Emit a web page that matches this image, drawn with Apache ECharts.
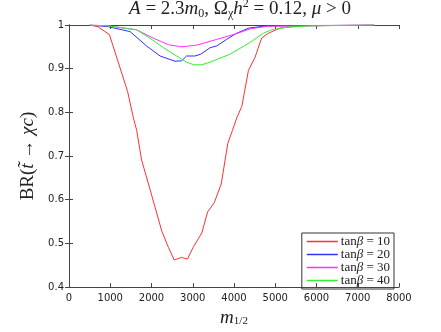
<!DOCTYPE html>
<html><head><meta charset="utf-8">
<script src="https://cdn.jsdelivr.net/npm/echarts@6/dist/echarts.min.js"></script>
<style>html,body{margin:0;padding:0;background:#fff}#c{width:441px;height:332px}</style>
</head><body><div id="c"></div>
<script>
var xTicks = [0,1000,2000,3000,4000,5000,6000,7000,8000];
var yTicks = [0.4,0.5,0.6,0.7,0.8,0.9,1];
var seriesNames = ['10','20','30','40'];
var xRed = [500, 700, 980, 1420, 1560, 1640, 1760, 1960, 2250, 2410, 2550, 2730, 2870, 3010, 3220, 3360, 3520, 3690, 3850, 3960, 4070, 4190, 4350, 4510, 4670, 4830, 5120, 5600, 7400];
var yRed = [1, 0.996, 0.978, 0.848, 0.788, 0.759, 0.691, 0.625, 0.528, 0.491, 0.462, 0.468, 0.464, 0.491, 0.524, 0.572, 0.593, 0.636, 0.729, 0.758, 0.788, 0.814, 0.896, 0.926, 0.970, 0.981, 0.993, 0.998, 1];
var xBlue = [500, 950, 1480, 1880, 2210, 2570, 2730, 2850, 3050, 3190, 3420, 3580, 3820, 4060, 4360, 4790, 7400];
var yBlue = [1, 0.996, 0.985, 0.952, 0.929, 0.917, 0.918, 0.929, 0.929, 0.933, 0.948, 0.952, 0.967, 0.981, 0.993, 0.998, 1];
var xMag = [500, 950, 1640, 2040, 2410, 2730, 3100, 3580, 4020, 4390, 4800, 7400];
var yMag = [1, 0.998, 0.989, 0.970, 0.955, 0.950, 0.954, 0.967, 0.979, 0.991, 0.997, 1];
var xGreen = [500, 950, 1640, 1960, 2290, 2610, 2850, 3020, 3220, 3420, 3900, 4370, 4710, 4910, 5280, 5840, 7400];
var yGreen = [1, 0.998, 0.989, 0.970, 0.948, 0.929, 0.915, 0.909, 0.909, 0.915, 0.933, 0.959, 0.981, 0.989, 0.995, 0.998, 1];

function zip(a,b){return a.map(function(v,i){return [v,b[i]];});}
var colors = ['#ff3030','#3030ff','#ff30ff','#30f030'];
var datas = [zip(xRed,yRed), zip(xBlue,yBlue), zip(xMag,yMag), zip(xGreen,yGreen)];
var lserif = 'Liberation Serif, DejaVu Serif, serif';

var chart = echarts.init(document.getElementById('c'));
var axisLine = {lineStyle:{color:'#444',width:1}};
var axisTick = {inside:true,length:4,lineStyle:{color:'#444'}};
var labelStyle = {color:'#222',fontSize:10,fontFamily:'DejaVu Sans, sans-serif'};
chart.setOption({
  animation:false,
  title:{
    text:'{i|A} = 2.3{i|m}{s|0}, Ω{s|χ}{i|h}{p|2} = 0.12, {i|μ} > 0',
    left:240, top:-2, padding:0, textAlign:'center',
    textStyle:{fontFamily:lserif,fontSize:19,lineHeight:22,fontWeight:'normal',color:'#222',
      rich:{i:{fontFamily:lserif,fontStyle:'italic',fontSize:19,lineHeight:22,color:'#222'},
            s:{fontFamily:lserif,fontSize:12,lineHeight:12,color:'#222',verticalAlign:'bottom'},
            p:{fontFamily:lserif,fontSize:12,lineHeight:12,color:'#222',verticalAlign:'top'}}}
  },
  legend:{
    orient:'vertical', right:47, bottom:43,
    itemWidth:31, itemHeight:1.5, itemGap:0, icon:'rect',
    borderColor:'#333', borderWidth:1, padding:[2,4,2,5],
    data:seriesNames,
    formatter:function(n){return 'tan{i|β} = '+n;},
    textStyle:{fontFamily:lserif,fontSize:13,lineHeight:10.7,color:'#222',padding:[0,0,0,-2],
      rich:{i:{fontFamily:lserif,fontStyle:'italic',fontSize:13,lineHeight:10.7,color:'#222'}}}
  },
  grid:{left:69,right:42,top:25,bottom:38},
  xAxis:[{
    type:'value',min:0,max:8000,interval:1000,
    axisLine:axisLine,axisTick:axisTick,splitLine:{show:false},
    axisLabel:Object.assign({margin:6,formatter:function(v){return String(v);}},labelStyle),
    name:'{i|m}{s|1/2}',nameLocation:'middle',nameGap:16,
    nameTextStyle:{rich:{i:{fontFamily:lserif,fontStyle:'italic',fontSize:19,color:'#222'},
      s:{fontFamily:lserif,fontSize:11,color:'#222',verticalAlign:'bottom',padding:[8,0,0,0]}}}
  },{
    type:'value',min:0,max:8000,interval:1000,position:'top',
    axisLine:axisLine,axisTick:axisTick,axisLabel:{show:false},splitLine:{show:false}
  }],
  yAxis:[{
    type:'value',min:0.4,max:1,interval:0.1,
    axisLine:axisLine,axisTick:axisTick,splitLine:{show:false},
    axisLabel:Object.assign({margin:5,formatter:function(v){return Math.abs(v-1)<1e-9?'1':v.toFixed(1);}},labelStyle),
    name:'BR({i|t̃} → {i|χc})',nameLocation:'middle',nameGap:25,
    nameTextStyle:{fontFamily:lserif,fontSize:19,color:'#222',
      rich:{i:{fontFamily:lserif,fontStyle:'italic',fontSize:19,color:'#222'}}}
  },{
    type:'value',min:0.4,max:1,interval:0.1,position:'right',
    axisLine:axisLine,axisTick:axisTick,axisLabel:{show:false},splitLine:{show:false}
  }],
  series:datas.map(function(d,i){
    return {name:seriesNames[i],type:'line',data:d,showSymbol:false,symbol:'none',
      lineStyle:{color:colors[i],width:1},itemStyle:{color:colors[i]},z:2+i};
  })
});
</script></body></html>
